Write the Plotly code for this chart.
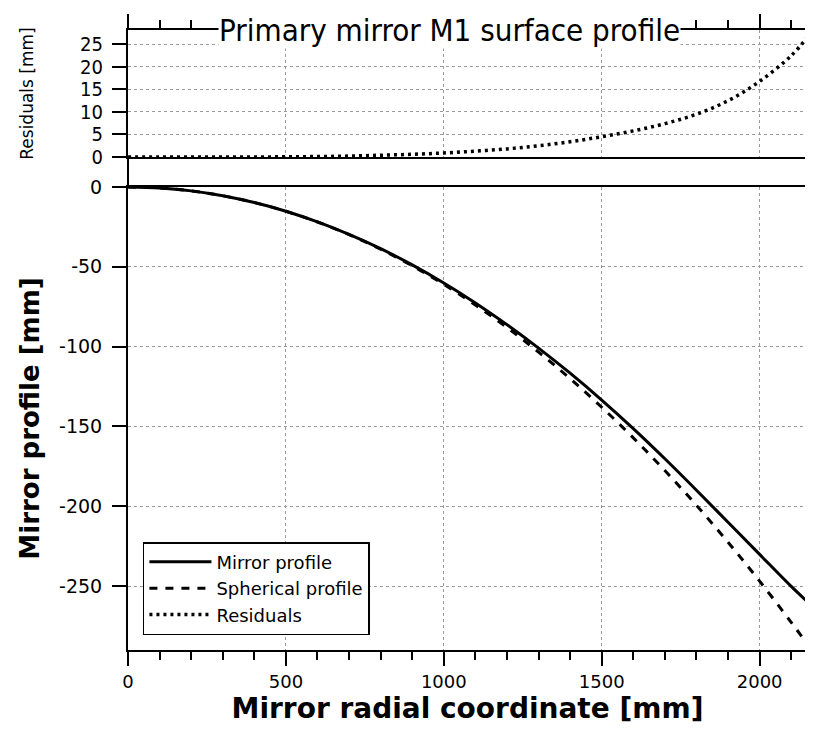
import plotly.graph_objects as go

# radial coordinate [mm]
radius = [0, 100, 200, 300, 400, 500, 600, 700, 800, 900, 1000, 1100,
          1200, 1300, 1400, 1500, 1600, 1700, 1800, 1900, 2000, 2100, 2150]

# profiles [mm]
mirror_profile = [0, -0.61, -2.43, -5.47, -9.73, -15.16, -21.82, -29.65,
                  -38.6, -48.8, -60.12, -72.6, -86.22, -100.9, -116.63,
                  -133.45, -151.34, -170.22, -189.9, -209.99, -230.1,
                  -250.15, -259.5]
spherical_profile = [0, -0.61, -2.43, -5.47, -9.73, -15.21, -21.92, -29.85,
                     -39.0, -49.4, -61.02, -73.9, -88.02, -103.4, -120.03,
                     -137.95, -157.14, -177.62, -199.4, -222.49, -246.9,
                     -272.65, -286.0]
residuals = [0, 0, 0, 0, 0, 0.05, 0.1, 0.2, 0.4, 0.6, 0.9, 1.3, 1.8, 2.5,
             3.4, 4.5, 5.8, 7.4, 9.5, 12.5, 16.8, 22.5, 26.5]

x_ticks = [0, 500, 1000, 1500, 2000]
y_ticks = [-250, -200, -150, -100, -50, 0]
y_labels = ["-250", "-200", "-150", "-100", "-50", "0"]
res_ticks = [0, 5, 10, 15, 20, 25]

NARROW = "Liberation Sans Narrow, DejaVu Sans Condensed, sans-serif"
TICK_FONT = dict(family="DejaVu Sans", size=18, color="black")
GRID = "#9a9a9a"

fig = go.Figure()

fig.add_trace(go.Scatter(
    x=radius, y=mirror_profile, name="Mirror profile", mode="lines",
    line=dict(color="black", width=3, shape="spline"),
    xaxis="x", yaxis="y"))
fig.add_trace(go.Scatter(
    x=radius, y=spherical_profile, name="Spherical profile", mode="lines",
    line=dict(color="black", width=3, dash="8px,8px", shape="spline"),
    xaxis="x", yaxis="y"))
fig.add_trace(go.Scatter(
    x=radius, y=residuals, name="Residuals", mode="lines",
    line=dict(color="black", width=3.5, dash="3px,4px", shape="spline"),
    xaxis="x2", yaxis="y2"))

# page body adds an 8px offset, so the figure is 8px smaller than the window
W, H = 805, 723
M_L, M_R, M_T, M_B = 120, 6, 22, 81
plot_h = H - M_T - M_B
bottom_top = (650 - 187) / plot_h
top_bottom = (650 - 157) / plot_h

x_common = dict(
    range=[0, 2150], tickvals=x_ticks, showline=True, linecolor="black",
    linewidth=2, mirror=True, ticks="outside", ticklen=14, tickwidth=2,
    tickcolor="black", showgrid=True, gridcolor=GRID, griddash="dot",
    gridwidth=1, zeroline=False, automargin=False,
    minor=dict(dtick=100, tick0=0, ticks="outside", ticklen=8, tickwidth=2,
               tickcolor="black", showgrid=False),
)

y_common = dict(
    showline=True, linecolor="black", linewidth=2, mirror="ticks",
    ticks="outside", ticklen=14, tickwidth=2, tickcolor="black",
    showgrid=True, gridcolor=GRID, griddash="dot", zeroline=False,
    automargin=False,
)

fig.update_layout(
    width=W, height=H,
    margin=dict(l=M_L, r=M_R, t=M_T, b=M_B),
    plot_bgcolor="white", paper_bgcolor="white",
    showlegend=True,
    xaxis=dict(
        x_common, anchor="y", tickfont=TICK_FONT,
        title=dict(text="Mirror radial coordinate [mm]", standoff=6,
                   font=dict(family="DejaVu Sans", size=28, color="black",
                             weight="bold"))),
    xaxis2=dict(x_common, anchor="y2", side="top", matches="x",
                showticklabels=False),
    yaxis=dict(
        y_common, domain=[0, bottom_top], range=[-290, 0],
        tickvals=y_ticks, ticktext=y_labels,
        tickfont=dict(family="DejaVu Sans", size=19, color="black"),
        ticklabelstandoff=6,
        title=dict(text="Mirror profile [mm]", standoff=12,
                   font=dict(family="DejaVu Sans", size=26, color="black",
                             weight="bold"))),
    yaxis2=dict(
        y_common, domain=[top_bottom, 1], range=[0, 28.2], tickvals=res_ticks,
        tickfont=dict(family=NARROW, size=20, color="black"),
        ticklabelstandoff=5,
        title=dict(text="Residuals [mm]", standoff=42,
                   font=dict(family="DejaVu Sans", size=17, color="black"))),
    legend=dict(
        x=0.022, y=0.174, xanchor="left", yanchor="top",
        bgcolor="white", bordercolor="black", borderwidth=1.5,
        font=dict(family="DejaVu Sans", size=18, color="black"),
        tracegroupgap=0, itemwidth=62),
    shapes=[
        # left axis continues through the gap between the panels
        dict(type="line", xref="paper", yref="paper", x0=0, x1=0,
             y0=bottom_top, y1=top_bottom,
             line=dict(color="black", width=2)),
    ],
    annotations=[
        dict(text="Primary mirror M1 surface profile", xref="paper",
             yref="paper", x=0.474, y=1, xanchor="center", yanchor="middle",
             showarrow=False, bgcolor="white", borderpad=0,
             font=dict(family=NARROW, size=31, color="black")),
    ],
)

fig.write_html("out.html")
